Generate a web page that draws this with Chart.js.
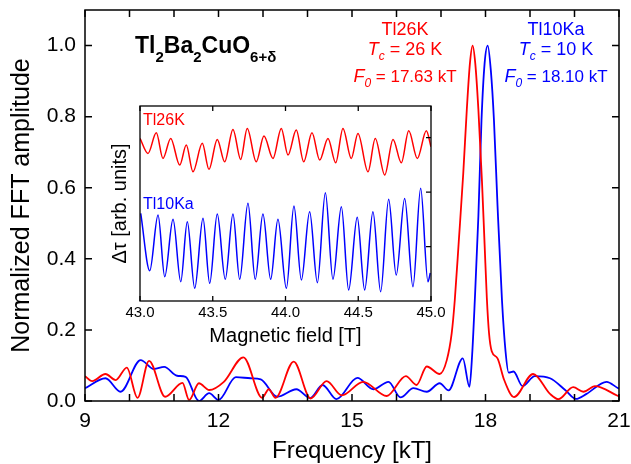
<!DOCTYPE html>
<html lang="en">
<head>
<meta charset="UTF-8">
<title>FFT spectra</title>
<script src="https://cdn.jsdelivr.net/npm/chart.js"></script>
<style>
    body { margin: 0; background: #fff; }
    #wrap { position: relative; width: 631px; height: 464px; }
    #fftChart { position: absolute; left: 0; top: 0; }
    #insetChart { position: absolute; left: 100px; top: 96px; }
</style>
</head>
<body>
<div id="wrap">
    <canvas id="fftChart" width="631" height="464"></canvas>
    <canvas id="insetChart" width="360" height="254"></canvas>
</div>

<script>
// FFT spectra: frequency [kT] vs normalized amplitude
var redFreq = [9.00, 9.16, 9.46, 9.69, 9.94, 10.18, 10.44, 10.80, 11.19, 11.34, 11.56, 11.79, 12.12, 12.56, 12.98, 13.13, 13.28, 13.69, 14.07, 14.43, 14.77, 15.25, 15.78, 16.21, 16.45, 16.68, 16.97, 17.13, 17.24, 17.31, 17.40, 17.50, 17.58, 17.65, 17.71, 17.77, 17.84, 17.92, 17.98, 18.03, 18.08, 18.14, 18.27, 18.42, 18.64, 19.07, 19.45, 19.64, 19.97, 20.20, 20.46, 20.98, 21.00];
var redAmp = [0.070, 0.056, 0.076, 0.059, 0.094, 0.009, 0.113, 0.012, 0.051, 0.003, 0.050, 0.031, 0.054, 0.123, 0.009, 0.033, 0.009, 0.111, 0.007, 0.056, 0.016, 0.054, 0.014, 0.070, 0.045, 0.097, 0.076, 0.115, 0.190, 0.284, 0.450, 0.640, 0.820, 0.950, 1.000, 0.950, 0.820, 0.620, 0.440, 0.290, 0.190, 0.140, 0.120, 0.059, 0.011, 0.076, 0.020, 0.005, 0.039, 0.026, 0.042, 0.014, 0.013];

var blueFreq = [9.00, 9.46, 9.80, 10.25, 10.55, 10.78, 11.07, 11.26, 11.56, 11.79, 12.00, 12.39, 12.72, 12.95, 13.32, 13.75, 14.06, 14.34, 14.65, 15.12, 15.48, 15.82, 16.09, 16.38, 16.68, 16.97, 17.17, 17.49, 17.64, 17.70, 17.76, 17.84, 17.91, 17.98, 18.05, 18.12, 18.19, 18.27, 18.37, 18.45, 18.52, 18.63, 18.83, 19.11, 19.45, 19.79, 20.03, 20.27, 20.72, 20.98, 21.00];
var blueAmp = [0.036, 0.064, 0.026, 0.115, 0.090, 0.096, 0.071, 0.068, 0.000, 0.022, 0.003, 0.067, 0.064, 0.061, 0.012, 0.033, 0.008, 0.045, 0.005, 0.065, 0.033, 0.054, 0.010, 0.036, 0.026, 0.050, 0.030, 0.120, 0.040, 0.130, 0.284, 0.520, 0.790, 0.950, 1.000, 0.930, 0.790, 0.550, 0.284, 0.140, 0.080, 0.083, 0.042, 0.070, 0.064, 0.031, 0.006, 0.020, 0.054, 0.036, 0.035];

// torque oscillations: field [T] vs signal [arb. units]
var redField = [43.000, 43.055, 43.112, 43.158, 43.211, 43.273, 43.318, 43.364, 43.428, 43.474, 43.531, 43.582, 43.639, 43.692, 43.737, 43.799, 43.852, 43.914, 43.971, 44.017, 44.074, 44.125, 44.182, 44.235, 44.292, 44.345, 44.395, 44.452, 44.498, 44.567, 44.617, 44.682, 44.739, 44.796, 44.847, 44.906, 44.968, 45.000];
var redTorque = [2.985, 2.710, 3.088, 2.618, 2.985, 2.495, 2.862, 2.372, 2.894, 2.417, 2.967, 2.556, 3.150, 2.600, 3.169, 2.556, 3.028, 2.618, 3.169, 2.679, 3.138, 2.556, 3.088, 2.587, 2.985, 2.538, 3.169, 2.618, 3.077, 2.372, 2.985, 2.312, 2.967, 2.538, 3.125, 2.618, 3.125, 2.831];

var blueField = [43.005, 43.067, 43.124, 43.170, 43.227, 43.280, 43.325, 43.376, 43.433, 43.479, 43.531, 43.586, 43.639, 43.685, 43.742, 43.792, 43.845, 43.898, 43.948, 44.006, 44.058, 44.109, 44.166, 44.219, 44.274, 44.326, 44.384, 44.434, 44.493, 44.544, 44.601, 44.654, 44.709, 44.761, 44.819, 44.876, 44.929, 44.979, 44.995];
var blueTorque = [1.609, 0.556, 1.578, 0.446, 1.499, 0.354, 1.455, 0.233, 1.517, 0.325, 1.596, 0.398, 1.596, 0.398, 1.793, 0.398, 1.596, 0.398, 1.499, 0.233, 1.743, 0.385, 1.639, 0.336, 1.987, 0.398, 1.730, 0.202, 1.536, 0.202, 1.639, 0.171, 1.866, 0.477, 1.884, 0.262, 2.068, 0.354, 0.514];

// tick values
var freqLabelTicks = [9, 12, 15, 18, 21];
var freqMarkTicks = [9, 10, 11, 12, 13, 14, 15, 16, 17, 18, 19, 20, 21];
var ampTicks = [0, 0.2, 0.4, 0.6, 0.8, 1.0];
var fieldTicks = [43.0, 43.5, 44.0, 44.5, 45.0];
var torqueTicks = [1, 2, 3];

var RED = '#ff0000';
var BLUE = '#0000ff';
var FONT = "'Liberation Sans', Arial, Helvetica, sans-serif";

Chart.defaults.font.family = FONT;
Chart.defaults.color = '#000';

function toPoints(xs, ys) {
    return xs.map(function (x, i) { return { x: x, y: ys[i] }; });
}

function tickObjects(list) {
    return list.map(function (v) { return { value: v }; });
}

// fixed axis box sizes, no extra room for overhanging labels
function fixHeight(h) {
    return function (s) { s.height = h; s.paddingLeft = 0; s.paddingRight = 0; };
}
function fixWidth(w) {
    return function (s) { s.width = w; s.paddingTop = 0; s.paddingBottom = 0; };
}

// draws the box around the plot and inward-pointing tick marks
function frameTicks(cfg) {
    return {
        id: 'frameTicks',
        afterDatasetsDraw: function (chart) {
            var a = chart.chartArea, ctx = chart.ctx;
            var xs = chart.scales.x, ys = chart.scales.y;
            ctx.save();
            ctx.strokeStyle = '#000';
            ctx.lineWidth = cfg.lineWidth;
            ctx.beginPath();
            cfg.xTicks.forEach(function (v) {
                var px = xs.getPixelForValue(v);
                if (cfg.bottom) { ctx.moveTo(px, a.bottom); ctx.lineTo(px, a.bottom - cfg.len); }
                if (cfg.top) { ctx.moveTo(px, a.top); ctx.lineTo(px, a.top + cfg.len); }
            });
            cfg.yTicks.forEach(function (v) {
                var py = ys.getPixelForValue(v);
                if (cfg.left) { ctx.moveTo(a.left, py); ctx.lineTo(a.left + cfg.len, py); }
                if (cfg.right) { ctx.moveTo(a.right, py); ctx.lineTo(a.right - cfg.len, py); }
            });
            ctx.stroke();
            ctx.strokeRect(a.left, a.top, a.right - a.left, a.bottom - a.top);
            ctx.restore();
        }
    };
}

// text made of runs with their own font and vertical shift (subscripts)
function drawRuns(ctx, runs, x, y, align, color) {
    var total = 0;
    runs.forEach(function (r) {
        ctx.font = r.f;
        r.w = ctx.measureText(r.t).width;
        total += r.w;
    });
    var cx = align === 'center' ? x - total / 2 : x;
    ctx.fillStyle = color;
    ctx.textBaseline = 'alphabetic';
    ctx.textAlign = 'left';
    runs.forEach(function (r) {
        ctx.font = r.f;
        ctx.fillText(r.t, cx, y + (r.dy || 0));
        cx += r.w;
    });
}

var annotations = {
    id: 'annotations',
    afterDraw: function (chart) {
        var ctx = chart.ctx;
        var big = 'bold 23px ' + FONT, sub = 'bold 15px ' + FONT;
        var reg = '18px ' + FONT, ital = 'italic 18px ' + FONT, isub = 'italic 12px ' + FONT;
        var reg2 = '17px ' + FONT;
        ctx.save();
        drawRuns(ctx, [
            { t: 'Tl', f: big }, { t: '2', f: sub, dy: 9 },
            { t: 'Ba', f: big }, { t: '2', f: sub, dy: 9 },
            { t: 'CuO', f: big }, { t: '6+\u03b4', f: sub, dy: 9 }
        ], 135, 53, 'left', '#000');

        drawRuns(ctx, [{ t: 'Tl26K', f: reg }], 405, 35, 'center', RED);
        drawRuns(ctx, [{ t: 'T', f: ital }, { t: 'c', f: isub, dy: 5 }, { t: ' = 26 K', f: reg }], 405, 55, 'center', RED);
        drawRuns(ctx, [{ t: 'F', f: ital }, { t: '0', f: isub, dy: 5 }, { t: ' = 17.63 kT', f: reg2 }], 405, 82, 'center', RED);

        drawRuns(ctx, [{ t: 'Tl10Ka', f: reg }], 556, 35, 'center', BLUE);
        drawRuns(ctx, [{ t: 'T', f: ital }, { t: 'c', f: isub, dy: 5 }, { t: ' = 10 K', f: reg }], 556, 55, 'center', BLUE);
        drawRuns(ctx, [{ t: 'F', f: ital }, { t: '0', f: isub, dy: 5 }, { t: ' = 18.10 kT', f: reg2 }], 556, 82, 'center', BLUE);
        ctx.restore();
    }
};

var fftChart = new Chart(document.getElementById('fftChart'), {
    type: 'line',
    data: {
        datasets: [{
            label: 'Tl26K',
            data: toPoints(redFreq, redAmp),
            borderColor: RED,
            borderWidth: 1.8,
            pointRadius: 0,
            fill: false,
            cubicInterpolationMode: 'monotone'
        }, {
            label: 'Tl10Ka',
            data: toPoints(blueFreq, blueAmp),
            borderColor: BLUE,
            borderWidth: 1.8,
            pointRadius: 0,
            fill: false,
            cubicInterpolationMode: 'monotone'
        }]
    },
    options: {
        responsive: false,
        animation: false,
        devicePixelRatio: 1,
        layout: { padding: { top: 10, right: 12, left: 0, bottom: 0 } },
        plugins: { legend: { display: false }, tooltip: { enabled: false } },
        scales: {
            x: {
                type: 'linear',
                min: 9,
                max: 21,
                afterFit: fixHeight(63),
                afterBuildTicks: function (s) { s.ticks = tickObjects(freqLabelTicks); },
                grid: { display: false, drawTicks: false },
                border: { display: false },
                ticks: { font: { size: 21 }, padding: 8, maxRotation: 0, callback: function (v) { return v; } },
                title: { display: true, text: 'Frequency [kT]', font: { size: 24, lineHeight: 1 }, padding: { top: 0, bottom: 1 } }
            },
            y: {
                min: 0,
                max: 1.1,
                afterFit: fixWidth(85),
                afterBuildTicks: function (s) { s.ticks = tickObjects(ampTicks); },
                grid: { display: false, drawTicks: false },
                border: { display: false },
                ticks: { font: { size: 21 }, padding: 9, callback: function (v) { return v.toFixed(1); } },
                title: { display: true, text: 'Normalized FFT amplitude', font: { size: 25, lineHeight: 1 }, padding: { top: 10, bottom: 0 } }
            }
        }
    },
    plugins: [frameTicks({ xTicks: freqMarkTicks, yTicks: ampTicks, len: 7, lineWidth: 1.5, top: true, bottom: true, left: true, right: true }), annotations]
});

var insetLabels = {
    id: 'insetLabels',
    afterDraw: function (chart) {
        var ctx = chart.ctx, a = chart.chartArea;
        ctx.save();
        drawRuns(ctx, [{ t: 'Tl26K', f: '16px ' + FONT }], a.left + 3, 29, 'left', RED);
        drawRuns(ctx, [{ t: 'Tl10Ka', f: '16px ' + FONT }], a.left + 3, 113, 'left', BLUE);
        ctx.restore();
    }
};

var insetChart = new Chart(document.getElementById('insetChart'), {
    type: 'line',
    data: {
        datasets: [{
            label: 'Tl26K',
            data: toPoints(redField, redTorque),
            borderColor: RED,
            borderWidth: 1.5,
            pointRadius: 0,
            fill: false,
            cubicInterpolationMode: 'monotone'
        }, {
            label: 'Tl10Ka',
            data: toPoints(blueField, blueTorque),
            borderColor: BLUE,
            borderWidth: 1.5,
            pointRadius: 0,
            fill: false,
            cubicInterpolationMode: 'monotone'
        }]
    },
    options: {
        responsive: false,
        animation: false,
        devicePixelRatio: 1,
        layout: { padding: { top: 10, right: 29, left: 0, bottom: 0 } },
        plugins: { legend: { display: false }, tooltip: { enabled: false } },
        scales: {
            x: {
                type: 'linear',
                min: 43,
                max: 45,
                afterFit: fixHeight(49),
                afterBuildTicks: function (s) { s.ticks = tickObjects(fieldTicks); },
                grid: { display: false, drawTicks: false },
                border: { display: false },
                ticks: { font: { size: 15 }, padding: 3, maxRotation: 0, callback: function (v) { return v.toFixed(1); } },
                title: { display: true, text: 'Magnetic field [T]', font: { size: 20, lineHeight: 1 }, padding: { top: 0, bottom: 4 } }
            },
            y: {
                min: 0,
                max: 3.58,
                afterFit: fixWidth(40),
                afterBuildTicks: function (s) { s.ticks = tickObjects(torqueTicks); },
                grid: { display: false, drawTicks: false },
                border: { display: false },
                ticks: { display: false },
                title: { display: true, text: '\u0394\u03c4 [arb. units]', font: { size: 20, lineHeight: 1 }, padding: { top: 10, bottom: 0 } }
            }
        }
    },
    plugins: [frameTicks({ xTicks: fieldTicks, yTicks: torqueTicks, len: 5, lineWidth: 1.3, top: true, bottom: true, left: false, right: true }), insetLabels]
});
</script>
</body>
</html>
